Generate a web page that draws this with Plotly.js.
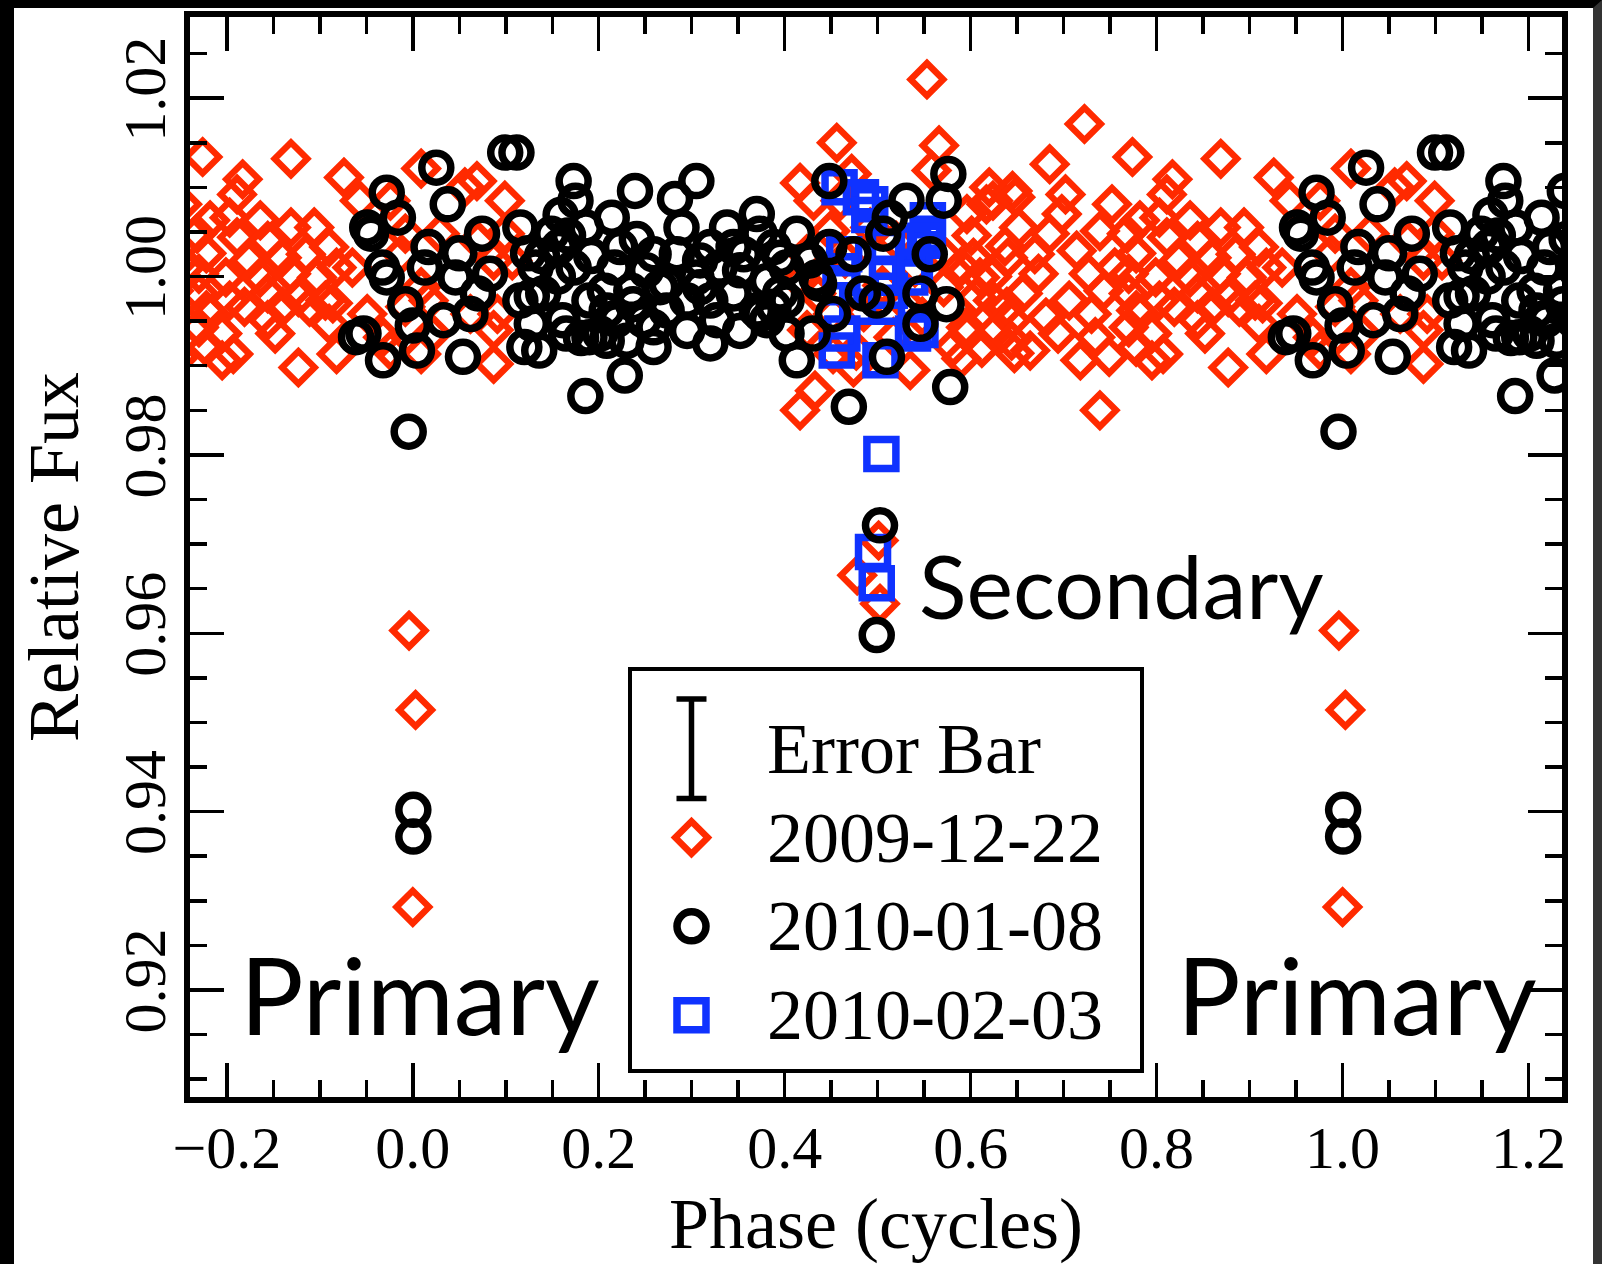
<!DOCTYPE html>
<html>
<head>
<meta charset="utf-8">
<script src="https://cdn.plot.ly/plotly-3.0.1.min.js"></script>
<style>
html, body { margin: 0; padding: 0; background: #fff; }
#frame { position: absolute; left: 0; top: 0; width: 1602px; height: 1264px; box-sizing: border-box;
         border-left: 14px solid #000; border-top: 8px solid #000; border-right: 9px solid #333; background: #fff; overflow: hidden; }
#chart { width: 1579px; height: 1256px; }
</style>
</head>
<body>
<div id="frame"><div id="chart"></div></div>
<script>
// ---------------- data (one orbital cycle per night) ----------------
const seriesNames = ['2009-12-22', '2010-01-08', '2010-02-03'];
const legendLabels = ['Error Bar', '2009-12-22', '2010-01-08', '2010-02-03'];

const redPhase = [
  -0.226,-0.131,-0.183,-0.189,-0.074,0.009,0.069,0.056,0.099,-0.024,
  -0.057,-0.232,-0.218,-0.197,-0.164,-0.131,-0.106,-0.189,-0.156,-0.222,
  -0.176,-0.141,-0.115,-0.090,-0.082,-0.230,-0.201,-0.164,-0.131,-0.103,
  -0.065,-0.012,-0.008,0.029,0.070,0.099,0.107,0.087,-0.230,-0.197,
  -0.156,-0.123,-0.094,0.009,0.017,-0.222,-0.181,-0.140,-0.111,-0.086,
  -0.049,-0.008,0.062,0.091,-0.230,-0.205,-0.156,-0.148,-0.090,-0.032,
  0.021,0.087,-0.222,-0.193,-0.082,-0.024,0.009,-0.123,0.087,-0.205,
  -0.004,0.003,0.000,
  0.553,0.456,0.566,0.472,0.558,0.4165,0.431,0.596,0.617,0.492,
  0.449,0.4237,0.574,0.603,0.571,0.4165,0.434,0.452,0.596,0.581,
  0.624,0.474,0.535,0.4326,0.4165,0.517,0.624,0.610,0.477,0.452,0.424,
  0.501,0.5025,0.478,
  0.620,0.645,0.601,0.637,0.590,0.623,0.606,0.639,0.595,0.625,0.612,0.647,0.590,
  0.7224,0.685,0.648,0.702,0.685,0.739,0.640,0.669,0.714,0.755,
  0.656,0.706,0.743,0.644,0.681,0.730,0.664,0.718,0.749,0.739,
  0.673,0.727,0.698,0.652,0.752,0.694,0.644,0.734,
  0.520,0.540,0.530,0.548,0.505,0.465,0.485,0.460
];
const redFlux = [
  1.0134,1.0132,1.0109,1.0092,1.0111,1.0121,1.0107,1.0100,1.0085,1.0085,
  1.0085,1.0048,1.0063,1.0066,1.0063,1.0055,1.0055,1.0044,1.0040,1.0026,
  1.0018,1.0021,1.0025,1.0033,1.0010,1.0003,0.9999,0.9999,1.0003,0.9999,
  1.0010,1.0025,1.0048,1.0048,1.0040,1.0048,1.0018,1.0018,0.9981,0.9973,
  0.9981,0.9977,0.9973,0.9988,0.9973,0.9962,0.9966,0.9966,0.9966,0.9970,
  0.9958,0.9966,0.9958,0.9958,0.9943,0.9936,0.9951,0.9936,0.9947,0.9932,
  0.9936,0.9940,0.9921,0.9913,0.9913,0.9917,0.9913,0.9898,0.9902,0.9906,
  0.9603,0.9514,0.9293,
  1.0221,1.0150,1.0147,1.0115,1.0119,1.0105,1.0085,1.0070,1.0081,1.0055,
  1.0051,1.0025,1.0021,1.0021,0.9988,0.9995,0.9981,0.9958,0.9936,0.9921,
  0.9973,0.9898,0.9895,0.9872,0.9850,0.9932,1.0085,0.9999,0.9917,0.9913,0.9940,
  0.9704,0.9633,0.9665,
  1.0100,1.0096,1.0046,1.0034,1.0011,1.0000,0.9977,0.9966,0.9943,0.9937,0.9920,0.9914,0.9908,
  1.0171,1.0126,1.0089,1.0092,1.0048,1.0051,1.0021,1.0025,1.0029,1.0010,
  0.9981,0.9973,0.9984,0.9951,0.9954,0.9958,0.9917,0.9906,0.9910,0.9850,
  1.0003,1.0003,1.0070,1.0055,1.0081,0.9936,0.9928,0.9932,
  1.0040,1.0010,0.9970,0.9955,0.9990,1.0020,0.9960,1.0085
];

const blackPhase = [
  0.0253,0.0994,0.1115,-0.028,-0.016,-0.049,-0.045,0.0376,0.0745,0.1157,
  0.173,0.175,0.017,0.050,-0.033,-0.028,0.0459,0.013,0.083,0.132,
  0.157,0.173,0.1403,0.1157,0.070,0.062,-0.008,0.033,0.000,-0.053,
  -0.032,0.0045,0.054,0.120,0.136,0.128,0.161,0.1856,-0.0044,-0.061,
  0.0006,0.0006,
  0.149,0.186,0.190,0.165,0.190,0.124,0.128,0.156,0.167,0.139,0.159,0.192,0.181,
  0.305,0.239,0.282,0.214,0.289,0.241,0.370,0.338,0.217,0.251,
  0.284,0.320,0.356,0.388,0.413,0.2065,0.235,0.266,0.305,0.330,
  0.352,0.381,0.402,0.427,0.219,0.248,0.273,0.295,0.320,0.345,
  0.370,0.402,0.2086,0.230,0.259,0.295,0.327,0.374,0.413,0.228,
  0.434,0.448,0.531,0.576,0.571,0.513,0.448,0.474,0.506,0.556,
  0.437,0.484,0.499,0.546,0.574,0.452,0.510,0.469,0.578,0.546,0.430,
  0.2014,0.259,0.352,0.381,0.395,0.309,0.273,0.223,0.259,0.309,0.345,0.373,0.395,0.2086,0.237,0.388,0.402,0.320,
  0.5025,0.499
];
const blackFlux = [
  1.0122,1.0139,1.0139,1.0094,1.0066,1.0055,1.0048,1.0081,1.0048,1.0055,
  1.0107,1.0085,1.0033,1.0026,1.0010,0.9999,0.9999,1.0010,1.0003,1.0010,
  1.0033,1.0010,0.9981,0.9973,0.9981,0.9958,0.9969,0.9951,0.9945,0.9936,
  0.9906,0.9917,0.9910,0.9921,0.9917,0.9947,0.9951,0.9866,0.9826,0.9932,
  0.9402,0.9372,
  1.0048,1.0055,0.9973,0.9936,0.9932,1.0026,0.9978,1.0000,1.0046,1.0023,1.0069,1.0023,0.9931,
  1.0107,1.0096,1.0087,1.0066,1.0055,1.0042,1.0070,1.0055,1.0010,1.0007,
  1.0025,1.0033,1.0025,1.0033,1.0048,0.9984,0.9984,0.9988,0.9999,1.0010,
  1.0007,0.9995,1.0010,1.0018,0.9951,0.9951,0.9962,0.9973,0.9973,0.9981,
  0.9962,0.9973,0.9928,0.9928,0.9943,0.9939,0.9951,0.9958,0.9906,0.9889,
  0.9999,1.0107,1.0085,1.0115,1.0085,1.0066,1.0033,1.0025,1.0048,1.0025,
  0.9992,0.9981,0.9973,0.9981,0.9969,0.9958,0.9910,0.9854,0.9876,0.9947,0.9936,
  0.9936,0.9921,0.9939,0.9951,0.9981,0.9988,0.9992,1.0033,1.0025,1.0018,1.0033,1.0048,1.0021,0.9962,0.9969,0.9966,0.9936,0.9925,
  0.9721,0.9598
];

const bluePhase = [0.459,0.482,0.492,0.554,0.554,0.464,0.510,0.538,0.462,0.510,0.513,0.535,0.478,
                   0.510,0.546,0.538,0.456,0.462,0.503,0.504,0.495,0.499,0.491,0.551,0.460,0.540];
const blueFlux  = [1.0100,1.0089,1.0081,1.0063,1.0048,1.0025,1.0033,1.0037,0.9988,1.0003,0.9984,0.9999,0.9966,
                   0.9966,0.9940,0.9936,0.9917,0.9936,0.9906,0.9801,0.9691,0.9656,1.0069,1.0040,1.0006,1.0011];

// ---------------- presentation ----------------
const X_RANGE = [-0.2396, 1.236];
const Y_RANGE = [0.908, 1.0291];
const RED = '#ff2a00', BLACK = '#000000', BLUE = '#0f32ff';

// The figure shows each night's phase-folded light curve repeated one cycle on either side.
function foldIntoWindow(phase, flux) {
  const xs = [], ys = [];
  const lo = X_RANGE[0] - 0.03, hi = X_RANGE[1] + 0.03;
  for (let i = 0; i < phase.length; i++) {
    for (const k of [-1, 0, 1]) {
      const q = phase[i] + k;
      if (q >= lo && q <= hi) { xs.push(q); ys.push(flux[i]); }
    }
  }
  return {x: xs, y: ys};
}

const redMarker   = {symbol: 'diamond-open', size: 25, color: RED,   line: {width: 6.5, color: RED}};
const blackMarker = {symbol: 'circle-open',  size: 29, color: BLACK, line: {width: 7.5, color: BLACK}};
const blueMarker  = {symbol: 'square-open',  size: 29, color: BLUE,  line: {width: 7.5, color: BLUE}};

const redF = foldIntoWindow(redPhase, redFlux);
const blackF = foldIntoWindow(blackPhase, blackFlux);
const blueF = foldIntoWindow(bluePhase, blueFlux);

const traces = [
  {type: 'scatter', mode: 'markers', name: seriesNames[0], x: redF.x, y: redF.y, marker: redMarker, hoverinfo: 'skip'},
  {type: 'scatter', mode: 'markers', name: seriesNames[2], x: blueF.x, y: blueF.y, marker: blueMarker, hoverinfo: 'skip'},
  {type: 'scatter', mode: 'markers', name: seriesNames[1], x: blackF.x, y: blackF.y, marker: blackMarker, hoverinfo: 'skip'}
];

// legend drawn in its own small subplot so the keys can be full size
const LEGEND_KEY_X = 0.117, LEGEND_TEXT_X = 0.262;
const rowOf = label => legendLabels.indexOf(label);
traces.push({type: 'scatter', mode: 'markers', xaxis: 'x2', yaxis: 'y2', x: [LEGEND_KEY_X], y: [rowOf('Error Bar')],
  marker: {size: 1, color: 'rgba(0,0,0,0)'}, error_y: {type: 'constant', value: 0.56, thickness: 5.5, width: 15, color: BLACK}, hoverinfo: 'skip'});
traces.push({type: 'scatter', mode: 'markers', xaxis: 'x2', yaxis: 'y2', x: [LEGEND_KEY_X], y: [rowOf(seriesNames[0])], marker: redMarker, hoverinfo: 'skip'});
traces.push({type: 'scatter', mode: 'markers', xaxis: 'x2', yaxis: 'y2', x: [LEGEND_KEY_X], y: [rowOf(seriesNames[1])], marker: blackMarker, hoverinfo: 'skip'});
traces.push({type: 'scatter', mode: 'markers', xaxis: 'x2', yaxis: 'y2', x: [LEGEND_KEY_X], y: [rowOf(seriesNames[2])], marker: blueMarker, hoverinfo: 'skip'});

const serif = 'Liberation Serif, Times New Roman, serif';
const sans = 'Lato, Open Sans, sans-serif';
const tickFont = {family: serif, size: 60, color: '#000'};
const titleFont = {family: serif, size: 72, color: '#000'};

const axisCommon = {
  showgrid: false, zeroline: false, showline: true, linecolor: '#000', linewidth: 6, mirror: 'allticks',
  ticks: 'inside', ticklen: 34, tickwidth: 3.5, tickcolor: '#000', tickfont: tickFont, automargin: false
};

const annotations = legendLabels.map(label => ({
  xref: 'x2', yref: 'y2', x: LEGEND_TEXT_X, y: rowOf(label), text: label, showarrow: false,
  xanchor: 'left', yanchor: 'middle', font: {family: serif, size: 72, color: '#000'}
}));
annotations.push({xref: 'x', yref: 'y', x: 0.008, y: 0.9196, text: 'Primary', showarrow: false,
  xanchor: 'center', yanchor: 'middle', font: {family: sans, size: 106, color: '#000'}});
annotations.push({xref: 'x', yref: 'y', x: 1.015, y: 0.9196, text: 'Primary', showarrow: false,
  xanchor: 'center', yanchor: 'middle', font: {family: sans, size: 106, color: '#000'}});
annotations.push({xref: 'x', yref: 'y', x: 0.7619, y: 0.9654, text: 'Secondary', showarrow: false,
  xanchor: 'center', yanchor: 'middle', font: {family: sans, size: 88, color: '#000'}});

const layout = {
  width: 1579, height: 1256,
  margin: {l: 176, r: 31, t: 9, b: 167, pad: 0},
  paper_bgcolor: '#fff', plot_bgcolor: '#fff',
  showlegend: false, hovermode: false,
  xaxis: Object.assign({}, axisCommon, {
    range: X_RANGE, dtick: 0.2, tick0: 0, tickformat: '.1f', ticklabelstandoff: -7,
    minor: {dtick: 0.05, tick0: 0, ticks: 'inside', ticklen: 17, tickwidth: 3.5, tickcolor: '#000', showgrid: false},
    title: {text: 'Phase (cycles)', font: titleFont, standoff: 20}
  }),
  yaxis: Object.assign({}, axisCommon, {
    range: Y_RANGE, dtick: 0.02, tick0: 0.92, tickformat: '.2f', tickangle: -90, ticklabelstandoff: -5,
    minor: {dtick: 0.005, tick0: 0.92, ticks: 'inside', ticklen: 17, tickwidth: 3.5, tickcolor: '#000', showgrid: false},
    title: {text: 'Relative Fux', font: titleFont, standoff: 26}
  }),
  xaxis2: {domain: [0.3222, 0.6924], range: [0, 1], anchor: 'y2', showgrid: false, zeroline: false,
           showline: true, mirror: true, linecolor: '#000', linewidth: 4, ticks: '', showticklabels: false, fixedrange: true},
  yaxis2: {domain: [0.0259, 0.3944], range: [3.607, -0.876], anchor: 'x2', showgrid: false, zeroline: false,
           showline: true, mirror: true, linecolor: '#000', linewidth: 4, ticks: '', showticklabels: false, fixedrange: true},
  annotations: annotations
};

Plotly.newPlot('chart', traces, layout, {staticPlot: true, displayModeBar: false});
</script>
</body>
</html>
